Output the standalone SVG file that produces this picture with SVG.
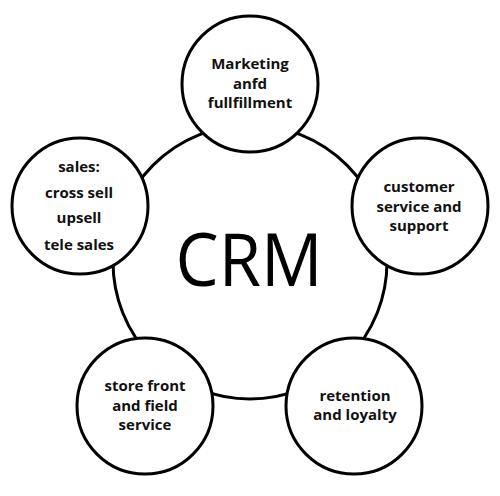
<svg xmlns="http://www.w3.org/2000/svg" width="500" height="496" viewBox="0 0 500 496">
<style>
.c{fill:#fff;stroke:#000;stroke-width:3}
.t{font-family:"Open Sans","Liberation Sans",sans-serif;font-weight:bold;font-size:15px;fill:#111;text-anchor:middle}
.big{font-family:"Open Sans","Liberation Sans",sans-serif;font-size:74px;fill:#000;text-anchor:middle}
</style>
<rect width="500" height="496" fill="#fff"/>
<g id="crm">
<circle class="c" cx="250" cy="262" r="137"/>
<text class="big" x="249" y="286" textLength="147" lengthAdjust="spacingAndGlyphs">CRM</text>
</g>
<g id="marketing">
<circle class="c" cx="250" cy="84" r="68"/>
<text class="t" x="250" y="69">Marketing</text>
<text class="t" x="250" y="88.5">anfd</text>
<text class="t" x="250" y="108">fullfillment</text>
</g>
<g id="customer-service">
<circle class="c" cx="420" cy="206" r="68"/>
<text class="t" x="419" y="192">customer</text>
<text class="t" x="419" y="212">service and</text>
<text class="t" x="419" y="231">support</text>
</g>
<g id="retention">
<circle class="c" cx="354" cy="406" r="68"/>
<text class="t" x="355" y="401">retention</text>
<text class="t" x="355" y="420">and loyalty</text>
</g>
<g id="store-front">
<circle class="c" cx="145" cy="406" r="68"/>
<text class="t" x="145" y="391">store front</text>
<text class="t" x="145" y="411">and field</text>
<text class="t" x="145" y="430">service</text>
</g>
<g id="sales">
<circle class="c" cx="80" cy="206" r="68"/>
<text class="t" x="79" y="172">sales:</text>
<text class="t" x="79" y="198">cross sell</text>
<text class="t" x="79" y="223">upsell</text>
<text class="t" x="79" y="250">tele sales</text>
</g>
</svg>
